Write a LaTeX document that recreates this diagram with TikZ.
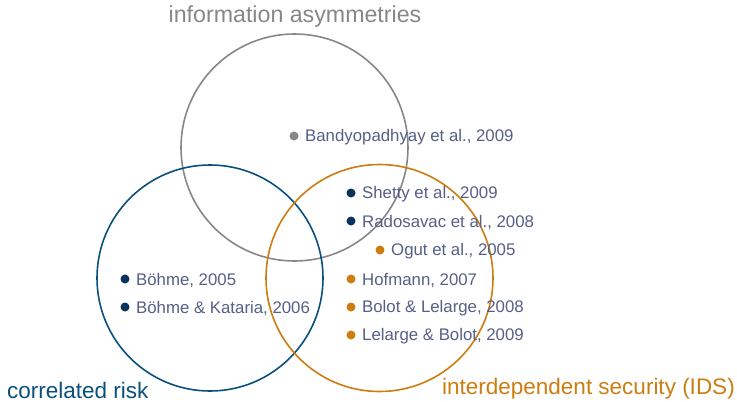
\documentclass[tikz,border=0pt]{standalone}
\usepackage{fontspec}
\setmainfont{Liberation Sans}
\begin{document}
\definecolor{circgray}{RGB}{135,135,135}
\definecolor{circblue}{RGB}{10,80,125}
\definecolor{circorange}{RGB}{205,125,15}
\definecolor{dotnavy}{RGB}{10,50,95}
\definecolor{reftext}{RGB}{85,95,135}
\begin{tikzpicture}[x=1pt,y=-1pt,
  ring/.style={draw=#1,line width=1.6pt},
  entry/.style={anchor=west,inner sep=0pt,text=reftext,font=\fontsize{16.8}{19}\selectfont},
  bullet/.style={circle,fill=#1,inner sep=0pt,minimum size=9pt},
  setlabel/.style={inner sep=0pt,text=#1,font=\fontsize{22.5}{26}\selectfont}]
\useasboundingbox (0,0) rectangle (737,402);
% three overlapping sets
\draw[ring=circgray]   (294.5,147.5) circle (113.5pt);
\draw[ring=circblue]   (210,278) circle (113pt);
\draw[ring=circorange] (379.5,278) circle (113.5pt);
% set names
\node[setlabel=circgray,font=\fontsize{23.2}{26}\selectfont] (tia) at (295,16) {information asymmetries};
\node[setlabel=circblue,anchor=west] (tcr) at (7,390) {correlated risk};
\node[setlabel=circorange,anchor=east] (tids) at (735,388.5) {interdependent security (IDS)};
% entries
\node[bullet=circgray] (d1) at (294,136) {};
\node[entry] (e1) at (305,137) {Bandyopadhyay et al., 2009};
\node[bullet=dotnavy] (d2) at (351,193) {};
\node[entry] (e2) at (362,194) {Shetty et al., 2009};
\node[bullet=dotnavy] (d3) at (351,221) {};
\node[entry] (e3) at (362,222) {Radosavac et al., 2008};
\node[bullet=circorange] (d4) at (380,250) {};
\node[entry] (e4) at (391,251) {Ogut et al., 2005};
\node[bullet=circorange] (d5) at (351,279) {};
\node[entry] (e5) at (362,280) {Hofmann, 2007};
\node[bullet=circorange] (d6) at (351,307) {};
\node[entry] (e6) at (362,308) {Bolot \& Lelarge, 2008};
\node[bullet=circorange] (d7) at (351,335) {};
\node[entry] (e7) at (362,336) {Lelarge \& Bolot, 2009};
\node[bullet=dotnavy] (d8) at (125,279) {};
\node[entry] (e8) at (136,280) {Böhme, 2005};
\node[bullet=dotnavy] (d9) at (125,307) {};
\node[entry] (e9) at (136,308) {Böhme \& Kataria, 2006};
\end{tikzpicture}
\end{document}
